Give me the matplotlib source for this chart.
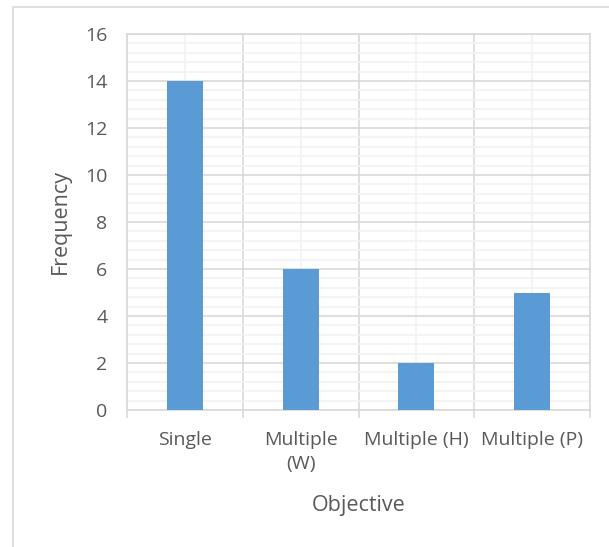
import matplotlib.pyplot as plt
import matplotlib.patches as patches
from matplotlib.ticker import MultipleLocator

# Chart data
categories = ["Single", "Multiple\n(W)", "Multiple (H)", "Multiple (P)"]
frequency = [14, 6, 2, 5]

plt.rcParams['font.family'] = ['Open Sans', 'DejaVu Sans']
text_color = '#595959'
bar_color = '#5B9BD5'

fig = plt.figure(figsize=(6.09, 5.47), dpi=100)
ax = fig.add_axes([127 / 609, 1 - 410 / 547, 463 / 609, 376 / 547])

# outer chart border (left/top visible)
fig.patches.append(patches.Rectangle((13 / 609, -0.05), 1.1, 1 - 7 / 547 + 0.05,
                                     transform=fig.transFigure, fill=False,
                                     edgecolor='#D9D9D9', linewidth=1.2))

x = list(range(len(categories)))
ax.bar(x, frequency, width=0.31, color=bar_color, zorder=3)

ax.set_xlim(-0.5, len(categories) - 0.5)
ax.set_ylim(0, 16)

ax.yaxis.set_major_locator(MultipleLocator(2))
ax.yaxis.set_minor_locator(MultipleLocator(0.4))
ax.set_xticks([i - 0.5 for i in range(len(categories) + 1)])
ax.set_xticks(x, minor=True)
ax.set_xticklabels([])
ax.set_xticklabels(categories, minor=True, linespacing=1.45)

ax.grid(which='major', color='#D9D9D9', linewidth=1.2, zorder=0)
ax.grid(which='minor', color='#F2F2F2', linewidth=1.2, zorder=0)

ax.tick_params(axis='x', which='major', length=6, color='#D9D9D9', width=1.2)
ax.tick_params(axis='x', which='minor', length=0, pad=15, labelsize=14, labelcolor=text_color)
ax.tick_params(axis='y', which='both', length=0, pad=14, labelsize=14, labelcolor=text_color)

for side in ['top', 'right', 'left', 'bottom']:
    ax.spines[side].set_color('#D9D9D9')
    ax.spines[side].set_linewidth(1.2)

ax.set_xlabel("Objective", fontsize=15.5, color=text_color, labelpad=16)
ax.set_ylabel("Frequency", fontsize=15.5, color=text_color, labelpad=10)

fig.savefig("out.png", dpi=100)
